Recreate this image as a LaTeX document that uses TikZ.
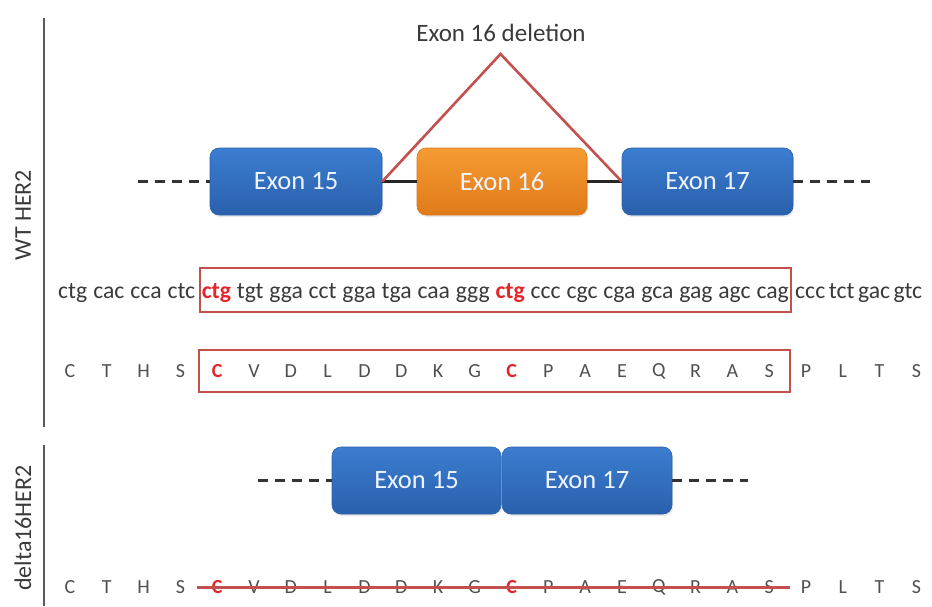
\documentclass[tikz,border=0pt]{standalone}
\usepackage{fontspec}
\setmainfont{Carlito}
\usetikzlibrary{shadows}

\definecolor{blueTop}{HTML}{3B7DD0}
\definecolor{blueBot}{HTML}{2A60AC}
\definecolor{blueEdge}{HTML}{2C62AA}
\definecolor{orangeTop}{HTML}{F59B34}
\definecolor{orangeBot}{HTML}{E07A18}
\definecolor{orangeEdge}{HTML}{D9781C}
\definecolor{exontext}{HTML}{EEF4FF}
\definecolor{boxred}{HTML}{C4504E}
\definecolor{cysred}{HTML}{E4262A}
\definecolor{inktext}{HTML}{3A3A3A}
\definecolor{aagray}{HTML}{505050}
\definecolor{rulegray}{HTML}{5A5A5A}

\begin{document}
\begin{tikzpicture}[x=1pt,y=-1pt,
  exon/.style={rounded corners=9pt, minimum width=#1, minimum height=67pt,
    inner sep=0pt, text=exontext, font=\fontsize{26.5}{30}\selectfont,
    drop shadow={opacity=.18, shadow xshift=1pt, shadow yshift=-2pt}},
  blueexon/.style={exon=#1, top color=blueTop, bottom color=blueBot, draw=blueEdge, line width=.6pt},
  orangeexon/.style={exon=#1, top color=orangeTop, bottom color=orangeBot, draw=orangeEdge, line width=.6pt},
  intron/.style={draw=black!85, line width=2.4pt},
  flank/.style={draw=black!80, line width=3pt, dash pattern=on 10pt off 7pt},
  splice/.style={draw=boxred, line width=2.6pt, line join=miter},
  redbox/.style={draw=boxred, line width=1.6pt},
  dna/.style={font=\fontsize{23.7}{28}\selectfont, text=inktext, inner sep=0pt,
    text height=20pt, text depth=4pt},
  aa/.style={font=\fontsize{20}{24}\selectfont, text=aagray, inner sep=0pt},
  cys/.style={font=\fontsize{20}{24}\selectfont\bfseries, text=cysred, inner sep=0pt},
  sidelabel/.style={rotate=90, font=\fontsize{24}{28}\selectfont, text=inktext},
  rule/.style={draw=rulegray, line width=1.8pt},
  strike/.style={draw=boxred, line width=3pt}
]
\useasboundingbox (0,0) rectangle (932,606);

% side brackets and labels
\coordinate (wtTop) at (44,18);
\coordinate (wtBot) at (44,427);
\coordinate (dlTop) at (44,445);
\coordinate (dlBot) at (44,606);
\draw[rule] (wtTop) -- (wtBot);
\draw[rule] (dlTop) -- (dlBot);
\node[sidelabel] (wtlabel) at (23,215) {WT HER2};
\node[sidelabel] (dllabel) at (23,528) {delta16HER2};

% wild-type gene structure
\node[blueexon=172pt] (e15) at (296,181.5) {Exon 15};
\node[orangeexon=170pt] (e16) at (502,181.5) {Exon 16};
\node[blueexon=171pt] (e17) at (707.5,181.5) {Exon 17};
\coordinate (wtL) at (138,181.5);
\coordinate (wtR) at (870,181.5);
\draw[flank] (wtL) -- (e15.west);
\draw[flank] (e17.east) -- (wtR);
\draw[intron] (e15.east) -- (e16.west);
\draw[intron] (e16.east) -- (e17.west);

% skipping event
\coordinate (apex) at (500.5,54);
\draw[splice] (e15.east) -- (apex) -- (e17.west);
\node[font=\fontsize{25}{30}\selectfont, text=inktext] (dellabel) at (501,33) {Exon 16 deletion};

% nucleotide sequence
\node[dna, anchor=base west] (ntpre) at (58,298)
  {\makebox[137pt][s]{ctg cac cca ctc}};
\node[dna, redbox, anchor=base west, inner xsep=2pt, minimum height=44pt] (ntex) at (199,298)
  {\makebox[587pt][s]{{\bfseries\color{cysred}ctg} tgt gga cct gga tga caa ggg {\bfseries\color{cysred}ctg} ccc cgc cga gca gag agc cag}};
\node[dna, anchor=base west] (ntpost) at (795,298)
  {\makebox[125pt][s]{ccc tct gac gtc}};

% wild-type protein sequence
\node[redbox, minimum width=591pt, minimum height=42pt, inner sep=0pt] (aabox) at (494.5,371) {};
\foreach \res/\sty [count=\i from 0] in
  {C/aa,T/aa,H/aa,S/aa,C/cys,V/aa,D/aa,L/aa,D/aa,D/aa,K/aa,G/aa,
   C/cys,P/aa,A/aa,E/aa,Q/aa,R/aa,A/aa,S/aa,P/aa,L/aa,T/aa,S/aa}
  \node[\sty] (wt\i) at ({70+36.8*\i},371) {\res};

% delta16 gene structure
\node[blueexon=169pt] (d15) at (416.5,480.5) {Exon 15};
\node[blueexon=170pt] (d17) at (587,480.5) {Exon 17};
\coordinate (dL) at (258,480.5);
\coordinate (dR) at (748,480.5);
\draw[flank] (dL) -- (d15.west);
\draw[flank] (d17.east) -- (dR);

% delta16 protein sequence, skipped residues struck through
\foreach \res/\sty [count=\i from 0] in
  {C/aa,T/aa,H/aa,S/aa,C/cys,V/aa,D/aa,L/aa,D/aa,D/aa,K/aa,G/aa,
   C/cys,P/aa,A/aa,E/aa,Q/aa,R/aa,A/aa,S/aa,P/aa,L/aa,T/aa,S/aa}
  \node[\sty] (dl\i) at ({70+36.8*\i},587) {\res};
\coordinate (cutL) at (197,587);
\coordinate (cutR) at (790,587);
\draw[strike] (cutL) -- (cutR);
\end{tikzpicture}
\end{document}
